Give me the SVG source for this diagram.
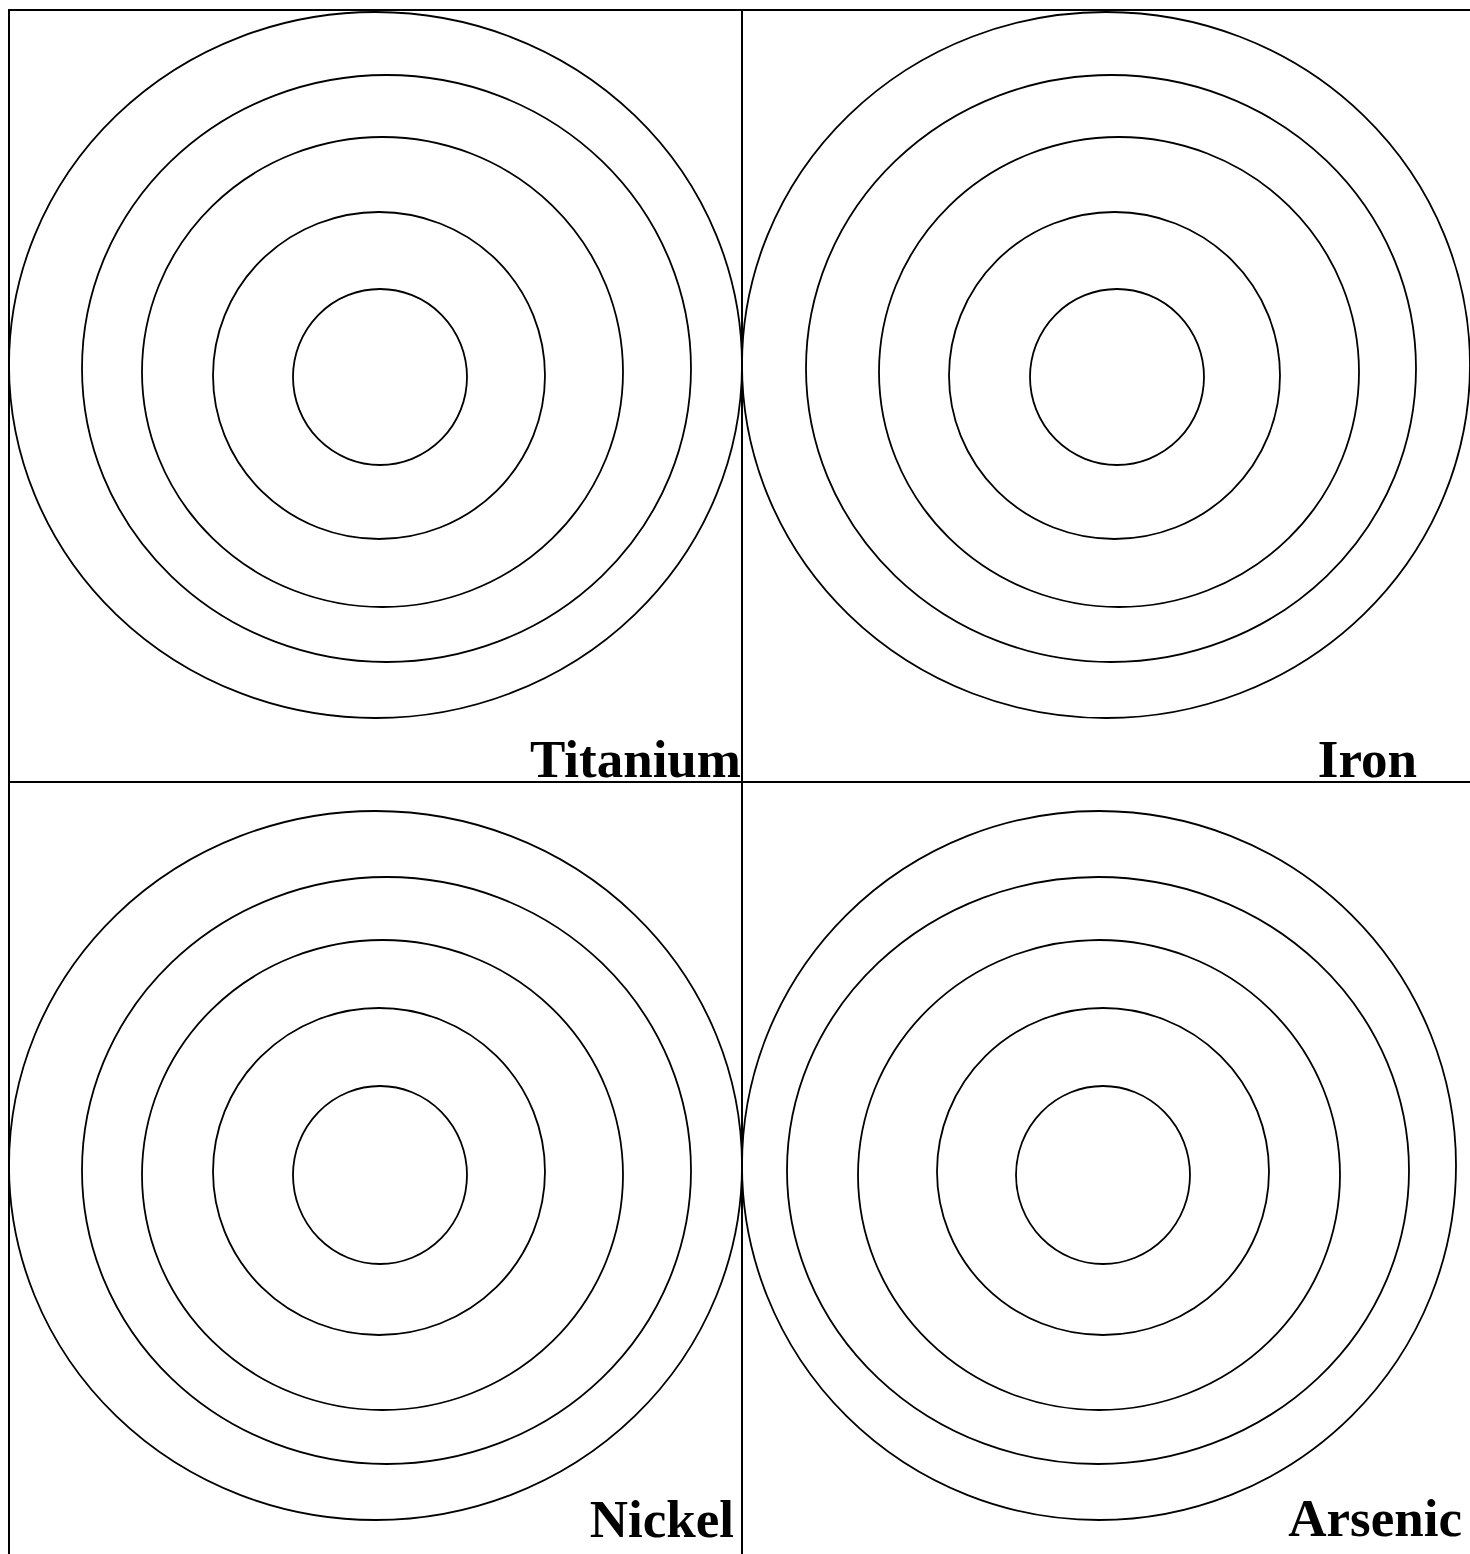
<svg xmlns="http://www.w3.org/2000/svg" width="1470" height="1554" viewBox="0 0 1470 1554">
<style>
.g{stroke:#000;stroke-width:2;fill:none}
.c{stroke:#000;stroke-width:1.8;fill:none}
.t{font-family:"Liberation Serif","Times New Roman",serif;font-weight:bold;font-size:53px;fill:#000;text-anchor:end}
</style>
<rect width="1470" height="1554" fill="#fff"/>
<g id="grid">
<line class="g" x1="8" y1="10" x2="1470" y2="10"/>
<line class="g" x1="9" y1="9" x2="9" y2="1554"/>
<line class="g" x1="742" y1="9" x2="742" y2="1554"/>
<line class="g" x1="9" y1="782" x2="1470" y2="782"/>
</g>
<g id="titanium">
<ellipse class="c" cx="375.5" cy="365" rx="366.5" ry="353"/>
<ellipse class="c" cx="386.5" cy="368.5" rx="304.5" ry="293.5"/>
<ellipse class="c" cx="382.5" cy="372" rx="240.5" ry="235"/>
<ellipse class="c" cx="379" cy="375.5" rx="166" ry="163.5"/>
<ellipse class="c" cx="380" cy="377" rx="87" ry="88"/>
<text class="t" x="741" y="777">Titanium</text>
</g>
<g id="iron">
<ellipse class="c" cx="1106" cy="365" rx="364" ry="353"/>
<ellipse class="c" cx="1111" cy="368.5" rx="305" ry="293.5"/>
<ellipse class="c" cx="1119" cy="372" rx="240" ry="235"/>
<ellipse class="c" cx="1114.5" cy="375.5" rx="165.5" ry="163.5"/>
<ellipse class="c" cx="1117" cy="377" rx="87" ry="88"/>
<text class="t" x="1417" y="777">Iron</text>
</g>
<g id="nickel">
<ellipse class="c" cx="375.5" cy="1165.5" rx="366.5" ry="354.5"/>
<ellipse class="c" cx="386.5" cy="1170.5" rx="304.5" ry="293.5"/>
<ellipse class="c" cx="382.5" cy="1175" rx="240.5" ry="235"/>
<ellipse class="c" cx="379" cy="1171.5" rx="166" ry="163.5"/>
<ellipse class="c" cx="380" cy="1175" rx="87" ry="89"/>
<text class="t" x="734" y="1537">Nickel</text>
</g>
<g id="arsenic">
<ellipse class="c" cx="1099" cy="1165.5" rx="357" ry="354.5"/>
<ellipse class="c" cx="1098" cy="1170.5" rx="311" ry="293.5"/>
<ellipse class="c" cx="1099" cy="1175" rx="241" ry="235"/>
<ellipse class="c" cx="1103" cy="1171.5" rx="166" ry="163.5"/>
<ellipse class="c" cx="1103" cy="1175" rx="87" ry="89"/>
<text class="t" x="1462" y="1536">Arsenic</text>
</g>
</svg>
